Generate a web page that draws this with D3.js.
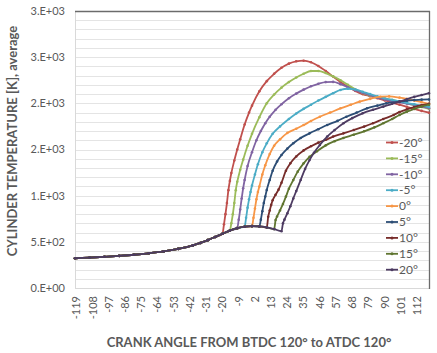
<!DOCTYPE html>
<html>
<head>
<meta charset="utf-8">
<script src="https://cdn.jsdelivr.net/npm/d3@7"></script>
<style>
  body { margin: 0; background: #ffffff; }
  svg { display: block; font-family: Lato, "Open Sans", sans-serif; }
</style>
</head>
<body>
<script>
// Tick values and labels.
const yTicks = [0, 500, 1000, 1500, 2000, 2500, 3000];
const yTickLabels = ['0.E+00', '5.E+02', '1.E+03', '2.E+03', '2.E+03', '3.E+03', '3.E+03'];
const xTicks = [-119, -108, -97, -86, -75, -64, -53, -42, -31, -20, -9, 2, 13, 24, 35, 46, 57, 68, 79, 90, 101, 112];

// Series names and start of combustion (deg).
const seriesNames = ['-20°', '-15°', '-10°', '-5°', '0°', '5°', '10°', '15°', '20°'];
const ignition = [-20, -15, -10, -5, 0, 5, 10, 15, 20];
const seriesColors = ['#c0504d', '#9bbb59', '#8064a2', '#4bacc6', '#f79646', '#2c4d75', '#772c2a', '#5f7530', '#4d3b62'];

// Compression (motored) part, shared by every series before ignition: [deg, K].
const motored = [[-120,322],[-110,330],[-100,338],[-90,348],[-80,360],[-70,376],[-60,396],[-50,424],[-40,462],[-35,488],[-30,518],[-25,552],[-20,588],[-15,622],[-10,648],[-5,664],[0,670],[5,667],[10,656],[15,638],[20,615]];

// Combustion part of each series: [deg, K].
const burnM20 = [[-20,588],[-19,690],[-18,800],[-17,920],[-16,1060],[-15,1160],[-14,1245],[-12,1380],[-10,1500],[-8,1610],[-5,1770],[-2,1900],[0,1975],[5,2130],[10,2240],[15,2320],[20,2385],[25,2430],[30,2455],[35,2462],[40,2445],[45,2405],[50,2350],[55,2290],[60,2232],[65,2180],[70,2135],[75,2100],[80,2078],[85,2055],[90,2032],[95,2008],[100,1985],[105,1962],[110,1940],[115,1918],[120,1898]];
const burnM15 = [[-15,622],[-14,700],[-13,800],[-12,920],[-11,1060],[-10,1150],[-8,1280],[-6,1390],[-3,1540],[0,1670],[5,1850],[10,2000],[15,2095],[20,2170],[25,2230],[30,2280],[35,2320],[40,2350],[45,2350],[50,2328],[55,2292],[60,2250],[65,2200],[70,2152],[75,2112],[80,2082],[85,2062],[90,2048],[95,2036],[100,2020],[105,2000],[110,1980],[115,1960],[120,1940]];
const burnM10 = [[-10,648],[-9,740],[-8,850],[-7,970],[-6,1080],[-5,1170],[-3,1320],[0,1470],[3,1600],[6,1700],[9,1785],[12,1855],[16,1930],[20,1990],[25,2055],[30,2105],[35,2148],[40,2185],[45,2212],[50,2230],[55,2232],[60,2208],[65,2175],[70,2142],[75,2115],[80,2088],[85,2062],[90,2042],[95,2025],[100,2012],[105,1998],[110,1982],[115,1965],[120,1948]];
const burnM5 = [[-5,664],[-4,760],[-3,870],[-2,960],[-1,1040],[0,1110],[2,1230],[4,1340],[7,1470],[10,1567],[14,1670],[19,1750],[25,1830],[30,1890],[35,1940],[40,1985],[45,2030],[50,2070],[55,2110],[60,2145],[65,2158],[70,2150],[75,2125],[80,2100],[85,2075],[90,2055],[95,2038],[100,2022],[105,2005],[110,1990],[115,1975],[120,1960]];
const burn0 = [[0,670],[1,760],[2,860],[3,960],[4,1040],[5,1100],[7,1230],[9,1330],[12,1450],[15,1540],[19,1610],[24,1680],[30,1725],[35,1765],[40,1808],[46,1855],[53,1900],[60,1946],[67,1985],[73,2018],[80,2048],[87,2072],[93,2075],[100,2062],[105,2048],[110,2030],[115,2012],[120,1995]];
const burnP5 = [[5,667],[6,740],[7,830],[8,920],[9,990],[10,1061],[12,1170],[14,1270],[17,1370],[20,1440],[24,1510],[28,1567],[33,1625],[39,1675],[45,1720],[51,1765],[58,1810],[64,1855],[71,1900],[78,1946],[85,1975],[91,2000],[100,2018],[105,2028],[110,2035],[115,2040],[120,2042]];
const burnP10 = [[10,656],[11,772],[12,840],[13,900],[14,950],[16,1010],[18,1065],[20,1140],[23,1270],[26,1350],[30,1425],[35,1490],[40,1535],[45,1575],[50,1605],[55,1640],[62,1675],[69,1711],[76,1748],[82,1784],[89,1830],[96,1874],[100,1905],[105,1935],[110,1960],[115,1980],[120,1995]];
const burnP15 = [[15,638],[16,736],[17,775],[19,840],[21,910],[23,990],[25,1075],[28,1170],[31,1260],[35,1350],[39,1420],[44,1480],[50,1545],[56,1590],[62,1625],[69,1660],[76,1697],[83,1740],[89,1784],[95,1830],[100,1874],[105,1910],[110,1940],[115,1965],[120,1985]];
const burnP20 = [[20,615],[21,700],[22,740],[24,810],[26,885],[28,970],[30,1050],[33,1170],[36,1290],[39,1385],[42,1465],[46,1550],[51,1640],[56,1710],[62,1784],[68,1840],[75,1892],[82,1930],[89,1964],[95,1995],[100,2018],[105,2045],[110,2070],[115,2090],[120,2110]];

const burns = [burnM20, burnM15, burnM10, burnM5, burn0, burnP5, burnP10, burnP15, burnP20];

// Layout.
const size = {width: 437, height: 353};
const plot = {left: 75, right: 429, top: 11, bottom: 288};
const textColor = '#595959';

const svg = d3.select('body')
      .append('svg')
      .attr('width', size.width)
      .attr('height', size.height);

const x = d3.scaleLinear().domain([-120, 120]).range([plot.left, plot.right]);
const y = d3.scaleLinear().domain([0, 3000]).range([plot.bottom, plot.top]);

// Gridlines every 100 K.
svg.append('g')
  .selectAll('line')
  .data(d3.range(100, 3000, 100))
  .enter()
  .append('line')
  .attr('x1', plot.left)
  .attr('x2', plot.right)
  .attr('y1', (d) => Math.round(y(d)) + 0.5)
  .attr('y2', (d) => Math.round(y(d)) + 0.5)
  .style('stroke', '#e4e4e4')
  .style('stroke-width', 1);

// Axis lines: light left / bottom, dark top / right.
svg.append('line')
  .attr('x1', plot.left + 0.5).attr('x2', plot.left + 0.5)
  .attr('y1', plot.top).attr('y2', plot.bottom + 0.5)
  .style('stroke', '#d9d9d9');
svg.append('line')
  .attr('x1', plot.left).attr('x2', plot.right)
  .attr('y1', plot.bottom + 0.5).attr('y2', plot.bottom + 0.5)
  .style('stroke', '#d9d9d9');
svg.append('line')
  .attr('x1', plot.left).attr('x2', plot.right + 1)
  .attr('y1', plot.top + 0.5).attr('y2', plot.top + 0.5)
  .style('stroke', '#6b6b6b').style('stroke-width', 1.3);
svg.append('line')
  .attr('x1', plot.right + 0.5).attr('x2', plot.right + 0.5)
  .attr('y1', plot.top).attr('y2', plot.bottom + 1)
  .style('stroke', '#6b6b6b').style('stroke-width', 1.3);

// Y tick labels.
svg.append('g')
  .selectAll('text')
  .data(yTicks)
  .enter()
  .append('text')
  .attr('x', plot.left - 10)
  .attr('y', (d) => y(d))
  .attr('dy', '0.35em')
  .attr('text-anchor', 'end')
  .style('font-size', '11px')
  .style('fill', textColor)
  .text((d, i) => yTickLabels[i]);

// X tick labels (rotated).
svg.append('g')
  .selectAll('text')
  .data(xTicks)
  .enter()
  .append('text')
  .attr('transform', (d) => 'translate(' + x(d) + ',' + (plot.bottom + 8) + ') rotate(-90)')
  .attr('dy', '0.35em')
  .attr('text-anchor', 'end')
  .style('font-size', '11px')
  .style('fill', textColor)
  .text((d) => d);

// Axis titles.
svg.append('text')
  .attr('transform', 'translate(17,141) rotate(-90)')
  .attr('text-anchor', 'middle')
  .style('font-size', '13px')
  .style('font-weight', 'bold')
  .style('fill', textColor)
  .text('CYLINDER TEMPERATURE [K], average');

svg.append('text')
  .attr('x', 249)
  .attr('y', 347)
  .attr('text-anchor', 'middle')
  .style('font-size', '13px')
  .style('font-weight', 'bold')
  .style('fill', textColor)
  .text('CRANK ANGLE FROM BTDC 120° to ATDC 120°');

// Series.
const line = d3.line()
      .x((d) => x(d[0]))
      .y((d) => y(d[1]))
      .curve(d3.curveMonotoneX);

const series = seriesNames.map((name, i) =>
                               {
                                 const pts = motored.filter((p) => p[0] < ignition[i]).concat(burns[i]);
                                 return {name: name, color: seriesColors[i], points: pts};
                               });

const seriesG = svg.append('g');
series.forEach((s) =>
               {
                 seriesG.append('path')
                   .attr('d', line(s.points))
                   .style('fill', 'none')
                   .style('stroke', s.color)
                   .style('stroke-width', 1.8);
                 seriesG.append('g')
                   .selectAll('circle')
                   .data(s.points)
                   .enter()
                   .append('circle')
                   .attr('cx', (d) => x(d[0]))
                   .attr('cy', (d) => y(d[1]))
                   .attr('r', 1.3)
                   .style('fill', s.color);
               });

// Legend.
const legend = svg.append('g')
      .selectAll('g')
      .data(series)
      .enter()
      .append('g')
      .attr('transform', (d, i) => 'translate(386,' + (142.5 + i * 15.9) + ')');

legend.append('line')
  .attr('x1', 0).attr('x2', 12)
  .style('stroke', (d) => d.color)
  .style('stroke-width', 1.8);
legend.append('circle')
  .attr('cx', 6)
  .attr('r', 1.5)
  .style('fill', (d) => d.color);
legend.append('text')
  .attr('x', 13)
  .attr('dy', '0.35em')
  .style('font-size', '12px')
  .style('fill', textColor)
  .text((d) => d.name);
</script>
</body>
</html>
